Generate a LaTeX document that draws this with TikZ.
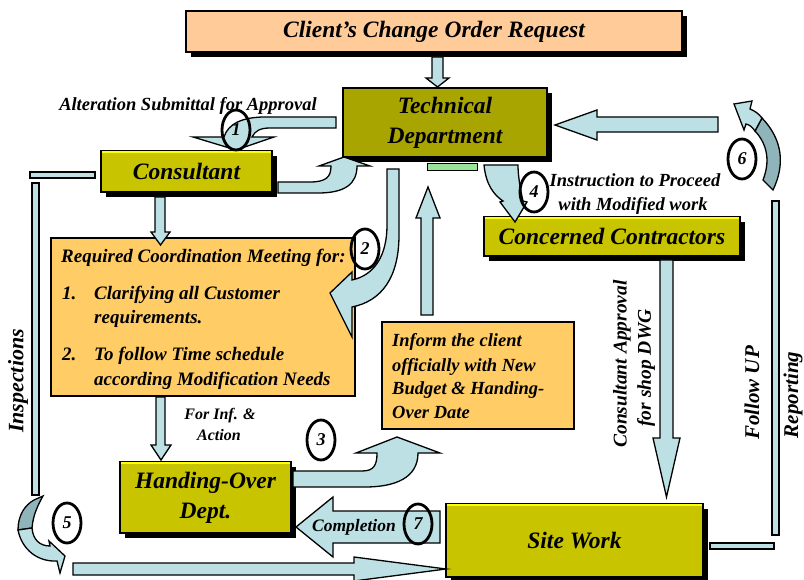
\documentclass[tikz,border=0pt]{standalone}
\usepackage{fontspec}
\setmainfont{Liberation Serif}
\usetikzlibrary{shadows,shapes.geometric}
\definecolor{arrowblue}{RGB}{188,224,228}
\definecolor{arrowdark}{RGB}{143,180,186}
\definecolor{peach}{RGB}{255,204,153}
\definecolor{techolive}{RGB}{169,165,0}
\definecolor{boxolive}{RGB}{200,196,0}
\definecolor{meetorange}{RGB}{255,204,102}
\definecolor{lightgreen}{RGB}{153,228,154}
\definecolor{hilite}{RGB}{255,255,0}
\tikzset{
  boxnode/.style={draw=black, line width=1.4pt, inner sep=0pt, align=center,
    font=\fontsize{23.5}{30}\selectfont\bfseries\itshape},
  shadowed/.style={drop shadow={shadow xshift=5pt, shadow yshift=-5pt, fill=black, opacity=1}},
  flow/.style={draw=black, line width=1.3pt, fill=arrowblue, line join=miter},
  flowdark/.style={draw=black, line width=1.3pt, fill=arrowdark, line join=miter},
  numcirc/.style={ellipse, draw=black, line width=2.8pt, inner sep=0pt,
    minimum width=28pt, minimum height=40pt, font=\fontsize{18}{20}\selectfont\bfseries\itshape},
  lbl/.style={font=\fontsize{18.5}{22}\selectfont\bfseries\itshape, inner sep=0pt},
  meetlbl/.style={font=\fontsize{19}{22}\selectfont\bfseries\itshape, inner sep=0pt},
  smalllbl/.style={font=\fontsize{16}{20}\selectfont\bfseries\itshape, inner sep=0pt},
  sidelbl/.style={font=\fontsize{21}{24}\selectfont\bfseries\itshape, inner sep=0pt, rotate=90},
  toplight/.style={draw=hilite, line width=2pt}
}
\begin{document}
\begin{tikzpicture}[x=1pt,y=-1pt]
\useasboundingbox (0,0) rectangle (804,580);
\fill[white] (0,0) rectangle (804,580);

% ---------- boxes ----------
\node[boxnode, shadowed, fill=peach, minimum width=496pt, minimum height=41pt] (client) at (434,31.5) {Client’s Change Order Request};
\node[boxnode, shadowed, fill=techolive, minimum width=204pt, minimum height=69pt] (tech) at (445,122.5) {Technical\\Department};
\draw[fill=lightgreen, line width=0.8pt] (427,163) rectangle (477,170);
\node[boxnode, shadowed, fill=boxolive, minimum width=171pt, minimum height=41pt] (consultant) at (186.5,171.5) {Consultant};
\node[boxnode, shadowed, fill=boxolive, minimum width=256pt, minimum height=39pt] (contractors) at (612,236.5) {Concerned Contractors};
\node[boxnode, shadowed, fill=boxolive, minimum width=171pt, minimum height=71pt] (handing) at (205.5,497.5) {Handing-Over\\Dept.};
\node[boxnode, shadowed, fill=boxolive, minimum width=257pt, minimum height=73pt] (site) at (574.5,540.5) {Site Work};
\foreach \b in {consultant,contractors,handing,site}{
  \draw[toplight] ([xshift=1.5pt,yshift=-2pt]\b.north west) -- ([xshift=-1.5pt,yshift=-2pt]\b.north east);
}
\node[draw=black, line width=1.4pt, fill=meetorange, minimum width=304pt, minimum height=158pt, inner sep=0pt] (meeting) at (203,317) {};
\node[draw=black, line width=1.4pt, fill=meetorange, minimum width=192pt, minimum height=107pt, inner sep=0pt] (inform) at (478,375.5) {};

% meeting text
\node[meetlbl, anchor=base west] (m0) at (61,263) {Required Coordination Meeting for:};
\node[meetlbl, anchor=base west] (m1n) at (62,300) {1.};
\node[meetlbl, anchor=base west] (m1a) at (94,300) {Clarifying all Customer};
\node[meetlbl, anchor=base west] (m1b) at (94,324) {requirements.};
\node[meetlbl, anchor=base west] (m2n) at (62,360) {2.};
\node[meetlbl, anchor=base west] (m2a) at (94,360) {To follow Time schedule};
\node[meetlbl, anchor=base west] (m2b) at (94,385) {according Modification Needs};

% inform text
\node[lbl, anchor=base west] (i1) at (392,347) {Inform the client};
\node[lbl, anchor=base west] (i2) at (392,371) {officially with New};
\node[lbl, anchor=base west] (i3) at (392,395) {Budget \& Handing-};
\node[lbl, anchor=base west] (i4) at (392,418) {Over Date};

% ---------- connectors ----------
% client -> tech
\draw[flow] (432,57) -- (443,57) -- (443,78) -- (449,78) -- (437.5,87) -- (426,78) -- (432,78) -- cycle;
% (1) tech -> consultant
\draw[flow] (336,117) -- (265,117) .. controls (242,117) and (228,124) .. (224,137) -- (193,137) -- (236,150) -- (274,137) -- (252,137) .. controls (255,131) and (260,128) .. (270,128) -- (336,128) -- cycle;
% consultant -> tech
\draw[flow] (278,182) -- (310,182) .. controls (326,182) and (331,177) .. (331,166) -- (319,166) -- (344,157) -- (370,166) -- (357,166) .. controls (357,184) and (345,193) .. (318,193) -- (278,193) -- cycle;
% (2) tech -> meeting
\draw[flow] (387,169) -- (387,225) .. controls (387,255) and (375,275) .. (352,280) -- (352,272) -- (330,293) -- (352,337) -- (352,307) .. controls (382,301) and (399,277) .. (399,235) -- (399,169) -- cycle;
% (4) tech -> contractors
\draw[flow] (484,165) .. controls (486,185) and (494,195) .. (503,201) -- (500,202) -- (515,222) -- (527,202) -- (523,201) .. controls (520,188) and (518,175) .. (518,165) -- cycle;
% inform -> tech
\draw[flow] (421,315) -- (421,218) -- (416,218) -- (428,187) -- (440,218) -- (433,218) -- (433,315) -- cycle;
% consultant -> meeting
\draw[flow] (155,197) -- (155,232) -- (151,232) -- (160.5,245) -- (170,232) -- (165,232) -- (165,197) -- cycle;
% meeting -> handing
\draw[flow] (156,397) -- (156,445) -- (151,445) -- (161,460) -- (171,445) -- (165,445) -- (165,397) -- cycle;
% (3) handing -> inform
\draw[flow] (293,471) -- (362,471) .. controls (374,471) and (377,465) .. (377,453) -- (356,453) -- (397,437) -- (440,453) -- (418,453) .. controls (418,478) and (395,487) .. (365,487) -- (293,487) -- cycle;
% (7) completion
\draw[flow] (440,511) -- (333,511) -- (333,497) -- (296,527) -- (333,557) -- (333,543) -- (440,543) -- cycle;
% contractors -> site work
\draw[flow] (660,260) -- (660,438) -- (653,438) -- (666.5,497) -- (680,438) -- (673,438) -- (673,260) -- cycle;
% bottom: inspections -> site work
\draw[flow] (73,563) -- (354,563) -- (354,557) -- (446,569) -- (354,581) -- (354,575) -- (73,575) -- cycle;
% follow up -> tech
\draw[flow] (718,117) -- (597,117) -- (597,110) -- (555,125) -- (597,140) -- (597,132) -- (718,132) -- cycle;
% bars
\draw[flow] (30,172) rectangle (95,178);
\draw[flow] (32,183) rectangle (39,495);
\draw[flow] (710,543) rectangle (774,549);
\draw[flow] (772,201) rectangle (779,535);
% (5) curved arrow
\draw[flowdark] (34,500) -- (43,496) .. controls (38,505) and (33,515) .. (32,528) -- (18,530) .. controls (18,515) and (25,505) .. (34,500) -- cycle;
\draw[flow] (18,530) -- (32,528) .. controls (33,540) and (40,546) .. (50,546) -- (49,541) -- (65,556) -- (60,573) -- (57,561) .. controls (38,562) and (22,550) .. (18,530) -- cycle;
% (6) curved arrow
\draw[flowdark] (763,180) -- (773,190) .. controls (785,165) and (783,140) .. (762,118) -- (755,131) .. controls (768,145) and (770,162) .. (763,180) -- cycle;
\draw[flow] (762,118) -- (755,131) .. controls (752,127) and (750,125) .. (746,124) -- (744,130) -- (734,104) -- (752,101) -- (750,109) .. controls (755,111) and (759,114) .. (762,118) -- cycle;

% ---------- numbered circles ----------
\node[numcirc] (c1) at (236,130) {1};
\node[numcirc] (c2) at (365,249) {2};
\node[numcirc] (c3) at (321,440) {3};
\node[numcirc] (c4) at (534,192) {4};
\node[numcirc] (c5) at (67,523) {5};
\node[numcirc] (c6) at (742,159) {6};
\node[numcirc] (c7) at (418,524) {7};

% ---------- labels ----------
\node[lbl, anchor=base] (alt) at (188,111) {Alteration Submittal for Approval};
\node[lbl, anchor=base] (ins1) at (635,187) {Instruction to Proceed};
\node[lbl, anchor=base] (ins2) at (633,211) {with Modified work};
\node[smalllbl, anchor=base] (inf1) at (220,419) {For Inf. \&};
\node[smalllbl, anchor=base] (inf2) at (219,440) {Action};
\node[lbl, font=\fontsize{17.5}{20}\selectfont\bfseries\itshape, anchor=base] (compl) at (354,531) {Completion};
\node[sidelbl, font=\fontsize{19.5}{22}\selectfont\bfseries\itshape] (capp1) at (622,364) {Consultant Approval};
\node[sidelbl, font=\fontsize{19.5}{22}\selectfont\bfseries\itshape] (capp2) at (646,368) {for shop DWG};
\node[sidelbl] (follow) at (752,393) {Follow UP};
\node[sidelbl] (report) at (793,395) {Reporting};
\node[sidelbl, font=\fontsize{22}{24}\selectfont\bfseries\itshape] (insp) at (18,381) {Inspections};
\end{tikzpicture}
\end{document}
